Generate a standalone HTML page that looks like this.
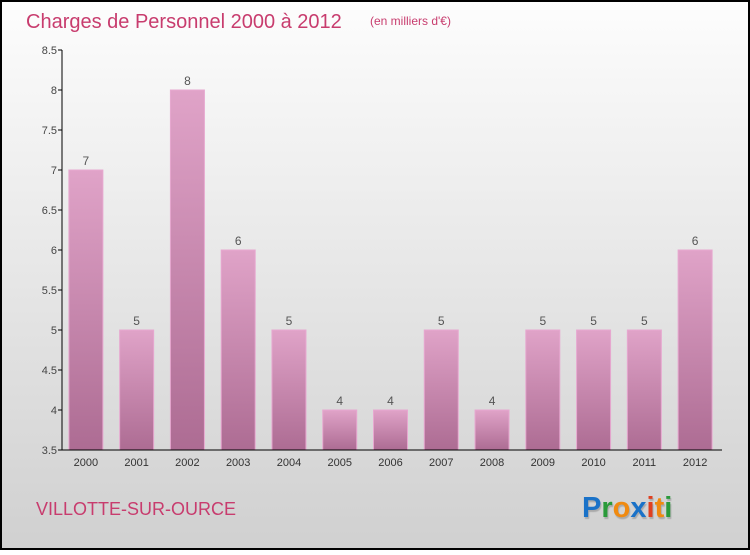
<!DOCTYPE html>
<html><head><meta charset="utf-8"><style>
html,body{margin:0;padding:0}
body{width:750px;height:550px;overflow:hidden;font-family:"Liberation Sans",sans-serif}
</style></head><body>
<svg id="chart" width="750" height="550" xmlns="http://www.w3.org/2000/svg">
<defs>
<linearGradient id="bg" x1="0" y1="0" x2="0" y2="1"><stop offset="0" stop-color="#fdfdfd"/><stop offset="1" stop-color="#d0d0d0"/></linearGradient>
<linearGradient id="bar" x1="0" y1="0" x2="0" y2="1"><stop offset="0" stop-color="#e0a3c8"/><stop offset="1" stop-color="#ad6c93"/></linearGradient>
</defs>
<rect x="1" y="1" width="748" height="548" fill="url(#bg)" stroke="#000" stroke-width="2"/>
<text x="26" y="28" font-size="20" fill="#c83c6e">Charges de Personnel 2000 à 2012</text>
<text x="370" y="25" font-size="12" fill="#c83c6e">(en milliers d'€)</text>
<g id="plot"></g>
<text x="36" y="515" font-size="18" fill="#c83c6e">VILLOTTE-SUR-OURCE</text>
<text x="582" y="517" font-size="29" font-weight="bold" style="text-shadow:1px 2px 1px #aaa"><tspan fill="#1a72c8">P</tspan><tspan fill="#2a9a3a">r</tspan><tspan fill="#f08a10">o</tspan><tspan fill="#1a72c8">x</tspan><tspan fill="#e04020">i</tspan><tspan fill="#f08a10">t</tspan><tspan fill="#2a9a3a">i</tspan></text>
</svg>
<script>
const categories=["2000","2001","2002","2003","2004","2005","2006","2007","2008","2009","2010","2011","2012"];
const values=[7,5,8,6,5,4,4,5,4,5,5,5,6];
const yTicks=[3.5,4,4.5,5,5.5,6,6.5,7,7.5,8,8.5];
const ns="http://www.w3.org/2000/svg";
const g=document.getElementById('plot');
const L=62,R=722,T=50,B=450,ymin=3.5,ymax=8.5;
const y=v=>B-(v-ymin)/(ymax-ymin)*(B-T);
const step=(R-L)/categories.length;
const x=i=>L-1.5+step*(i+0.5);
function mk(t,a){const e=document.createElementNS(ns,t);for(const k in a)e.setAttribute(k,a[k]);g.appendChild(e);return e;}
yTicks.forEach(v=>{
 const tk=mk('line',{x1:L-4,x2:L,y1:y(v),y2:y(v),stroke:'#000'});
 
 
 const t=mk('text',{x:L-5,y:y(v)+4,'font-size':11,fill:'#444','text-anchor':'end'});
 t.textContent=String(v);
 
 
});
values.forEach((v,i)=>{
 const bw=34;
 const r=mk('rect',{x:x(i)-bw/2,y:y(v),width:bw,height:B-y(v),fill:'url(#bar)',stroke:'#e7a8d0','stroke-width':1});
 
 
 const t=mk('text',{x:x(i),y:y(v)-5,'font-size':12,fill:'#555','text-anchor':'middle'});
 t.textContent=v;
 
 
 const c=mk('text',{x:x(i),y:B+16,'font-size':11,fill:'#333','text-anchor':'middle'});
 c.textContent=categories[i];
 
 
});
const ya=mk('line',{x1:L,x2:L,y1:T,y2:B,stroke:'#000'});


const xa=mk('line',{x1:L,x2:R,y1:B,y2:B,stroke:'#000'});


</script>
</body></html>
